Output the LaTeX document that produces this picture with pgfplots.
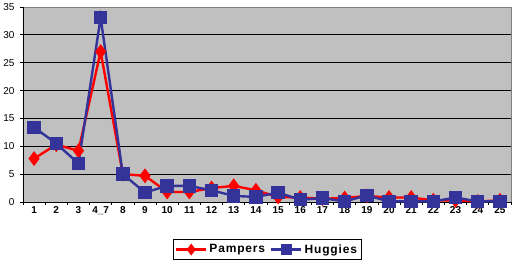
\documentclass[border=0pt]{standalone}
\usepackage{pgfplots}
\pgfplotsset{compat=1.18}
\usepackage{fontspec}
\setmainfont{Liberation Sans}
\definecolor{plotgray}{RGB}{192,192,192}
\definecolor{navy}{RGB}{51,51,153}
\definecolor{framegray}{RGB}{128,128,128}
\begin{document}
\begin{tikzpicture}
\begin{axis}[name=ax,
  scale only axis, width=488pt, height=195pt,
  xmin=-0.5, xmax=21.5, ymin=0, ymax=35,
  xtick={0,...,21},
  xticklabels={1,2,3,4\_7,8,9,10,11,12,13,14,15,16,17,18,19,20,21,22,23,24,25},
  minor xtick={-0.5,0.5,...,21.5},
  major x tick style={draw=none},
  ytick={0,5,...,35},
  xtick pos=bottom, ytick pos=left,
  tick align=outside,
  major tick length=3pt, minor tick length=3pt,
  every tick/.style={black, line width=0.8pt},
  ymajorgrids, grid style={black, line width=0.9pt},
  axis line style={draw=none},
  axis background/.style={fill=plotgray},
  clip=false,
  /pgf/number format/assume math mode=true,
  yticklabel style={font=\fontsize{10}{12}\selectfont, xshift=-2pt},
  xticklabel style={font=\fontsize{10}{12}\selectfont\bfseries, yshift=2pt},
  legend style={at={(0.5,-0.19)}, anchor=north, legend columns=2, draw=black, line width=0.8pt,
    font=\fontsize{12}{14}\selectfont\bfseries\addfontfeature{LetterSpace=7},
    inner xsep=2pt, inner ysep=3pt,
    /tikz/every even column/.append style={column sep=3pt}},
  legend image code/.code={\draw[mark repeat=2,mark phase=2,#1, mark size=4pt] plot coordinates {(0pt,0pt)(15pt,0pt)(30pt,0pt)};},
]
\draw[framegray, line width=1pt] (rel axis cs:0,1) -- (rel axis cs:1,1) -- (rel axis cs:1,0);
\draw[black, line width=1pt] (rel axis cs:0,1) -- (rel axis cs:0,0) -- (rel axis cs:1,0);
\addplot[red, line width=2.4pt, mark=diamond*, mark size=5.5pt, mark options={solid}] coordinates {
(0,7.8)(1,10.3)(2,9.2)(3,27)(4,5)(5,4.7)(6,1.8)(7,1.8)(8,2.5)(9,2.9)(10,2.1)(11,0.9)(12,0.8)(13,0.6)(14,0.7)(15,1.1)(16,0.8)(17,0.8)(18,0.3)(19,0.3)(20,0.1)(21,0.3)};
\addlegendentry{Pampers}
\addplot[navy, line width=2.4pt, mark=square*, mark size=5.5pt, mark options={solid}] coordinates {
(0,13.4)(1,10.5)(2,6.9)(3,33.1)(4,5)(5,1.7)(6,2.9)(7,2.9)(8,2.1)(9,1.1)(10,0.9)(11,1.7)(12,0.4)(13,0.7)(14,0.1)(15,1.2)(16,0.1)(17,0.1)(18,0.1)(19,0.8)(20,0.1)(21,0.1)};
\addlegendentry{Huggies}
\end{axis}
\pgfresetboundingbox
\path[use as bounding box] ([xshift=-23pt,yshift=-63pt]ax.south west) rectangle ([xshift=5pt,yshift=7pt]ax.north east);
\end{tikzpicture}
\end{document}
